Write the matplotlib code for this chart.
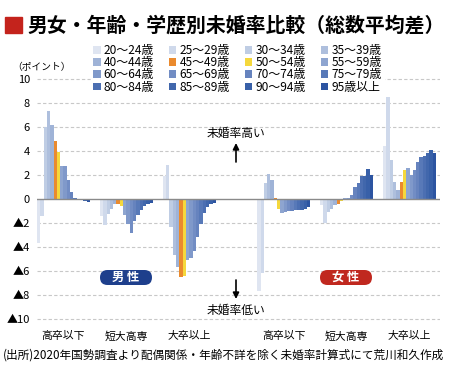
import matplotlib
matplotlib.use("Agg")
import matplotlib.pyplot as plt
from matplotlib.patches import Rectangle, FancyBboxPatch

plt.rcParams["font.family"] = ["Noto Sans CJK JP", "DejaVu Sans"]

W, H = 450, 367

ages = ["20～24歳", "25～29歳", "30～34歳", "35～39歳",
        "40～44歳", "45～49歳", "50～54歳", "55～59歳",
        "60～64歳", "65～69歳", "70～74歳", "75～79歳",
        "80～84歳", "85～89歳", "90～94歳", "95歳以上"]
colors = ["#dfe5f1", "#cfd9eb", "#bfcde4", "#aebfdd",
          "#9fb3d7", "#ea8a2e", "#f5d83c", "#8ea5d0",
          "#8099ca", "#728dc4", "#6683be", "#5879b8",
          "#4c6fb2", "#4167ac", "#3860a8", "#2c54a1"]
education = ["高卒以下", "短大高専", "大卒以上"]

# difference from overall average (points), by age band
male_hs = [-3.7, -1.4, 6.0, 7.3, 6.2, 4.8, 3.9, 2.75, 2.75, 1.6, 0.6, 0.1, -0.05, -0.1, -0.2, -0.25]
male_jc = [-1.4, -2.2, -1.25, -0.85, -0.45, -0.4, -0.55, -1.35, -2.1, -2.8, -1.8, -1.3, -0.9, -0.6, -0.4, -0.35]
male_univ = [1.9, 2.8, -2.3, -4.7, -5.7, -6.5, -6.4, -5.1, -4.9, -4.3, -3.2, -2.1, -1.2, -0.7, -0.4, -0.3]
female_hs = [-7.7, -6.2, 1.3, 2.1, 1.6, 0.1, -0.8, -1.2, -1.1, -1.0, -1.0, -0.9, -0.9, -0.9, -0.8, -0.7]
female_jc = [-0.5, -2.0, -1.1, -0.8, -0.5, -0.45, -0.2, 0.05, 0.1, 0.3, 1.0, 1.3, 1.9, 1.95, 2.5, 2.0]
female_univ = [4.4, 8.5, 3.25, 1.4, 0.75, 1.4, 2.4, 2.6, 2.0, 2.4, 3.1, 3.5, 3.6, 3.8, 4.1, 3.8]

groups = [male_hs, male_jc, male_univ, female_hs, female_jc, female_univ]
group_start = [0, 19, 38, 66.5, 85.5, 104.5]


def fx(px):
    return px / W


def fy(py):
    return 1 - py / H


fig = plt.figure(figsize=(W / 100, H / 100), dpi=100)
ax = fig.add_axes([fx(37), fy(321.4), (440 - 37) / W, 244.8 / H])

handles = []
for g, (vals, start) in enumerate(zip(groups, group_start)):
    for i, v in enumerate(vals):
        b = ax.bar(start + i, v, width=1.0, align="edge", color=colors[i],
                   linewidth=0, zorder=3)
        if g == 0:
            handles.append(b[0])

ax.set_xlim(0, 121.7)
ax.set_ylim(-10.2, 10.2)
yt = list(range(-10, 11, 2))
ax.set_yticks(yt)
ax.set_yticklabels([f"▲{abs(v)}" if v < 0 else str(v) for v in yt], fontsize=8)
ax.tick_params(axis="y", length=0, pad=5)
ax.set_xticks([s + 8 for s in group_start])
ax.set_xticklabels(education * 2, fontsize=7.8)
ax.tick_params(axis="x", length=0, pad=7)
for v in yt:
    if v != 0:
        ax.axhline(v, color="#c8c8c8", lw=0.8, ls=(0, (3, 2)), zorder=1)
ax.axhline(0, color="#8a8a8a", lw=1.0, zorder=4)
for s in ax.spines.values():
    s.set_visible(False)

# legend laid out row by row
order = [r * 4 + c for c in range(4) for r in range(4)]
leg = fig.legend([handles[k] for k in order], [ages[k] for k in order],
                 ncol=4, loc="upper left", bbox_to_anchor=(fx(91), fy(42)),
                 fontsize=8.6, frameon=True, fancybox=False, framealpha=1,
                 edgecolor="white", facecolor="white",
                 handlelength=0.6, handleheight=0.6, handletextpad=0.25,
                 columnspacing=1.3, labelspacing=-0.08, borderpad=0.2,
                 borderaxespad=0)
leg.set_zorder(10)

# title
fig.patches.append(Rectangle((fx(5), fy(33)), 17 / W, 16 / H,
                             transform=fig.transFigure, color="#c4231c"))
fig.text(fx(27), fy(25), "男女・年齢・学歴別未婚率比較（総数平均差）",
         fontsize=14.3, fontweight="bold", va="center", ha="left")
fig.text(fx(12), fy(67), "（ポイント）", fontsize=7, va="center", ha="left")

# direction notes
fig.text(fx(236), fy(133), "未婚率高い", fontsize=8.5, ha="center", va="center")
fig.text(fx(236), fy(310), "未婚率低い", fontsize=8.5, ha="center", va="center")
for y0, y1 in [(162, 143), (280, 299)]:
    ax.annotate("", xy=(fx(236), fy(y1)), xytext=(fx(236), fy(y0)),
                xycoords="figure fraction", textcoords="figure fraction",
                arrowprops=dict(arrowstyle="-|>", color="black", lw=1.2,
                                mutation_scale=9, shrinkA=0, shrinkB=0))

# sex badges
for x, label, c in [(126, "男 性", "#1e3f8c"), (346, "女 性", "#c0281f")]:
    fig.patches.append(FancyBboxPatch(((x - 26) / 100, (H - 285) / 100), 0.52, 0.15,
                                      boxstyle="round,pad=0,rounding_size=0.075",
                                      transform=fig.dpi_scale_trans, fc=c, ec="none"))
    fig.text(fx(x), fy(277.5), label, fontsize=8.8, fontweight="bold",
             color="white", ha="center", va="center")

fig.text(fx(3), fy(355), "(出所)2020年国勢調査より配偶関係・年齢不詳を除く未婚率計算式にて荒川和久作成",
         fontsize=8.4, ha="left", va="center")

fig.savefig("out.png", dpi=100)
